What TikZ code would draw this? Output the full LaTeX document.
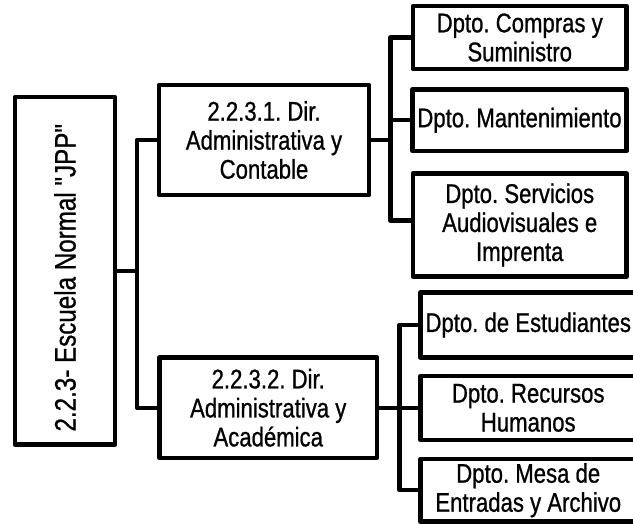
\documentclass[tikz,border=0pt]{standalone}
\usepackage{fontspec}
\setmainfont{Liberation Sans}[FakeStretch=0.82,FakeBold=0.8,Ligatures=TeXOff]
\frenchspacing
\begin{document}
\begin{tikzpicture}[x=1pt,y=-1pt,
  box/.style={draw=black, line width=4.4pt, line join=round, rectangle, inner sep=0pt,
    align=center, font=\fontsize{27}{29}\selectfont},
  conn/.style={draw=black, line width=4.4pt, line join=round}]
\useasboundingbox (0,0) rectangle (633,524);
\clip (0,0) rectangle (633,524);
\fill[white] (0,0) rectangle (633,524);
% root
\node[box, rotate=90, minimum width=347.5pt, minimum height=100pt,
  font=\fontsize{29.5}{31}\selectfont] (root) at (65,270.75) {2.2.3- Escuela Normal "JPP"\hspace*{14pt}};
% directions
\node[box, minimum width=210pt, minimum height=110pt] (d1) at (264,140)
  {2.2.3.1. Dir.\\Administrativa y\\Contable};
\node[box, minimum width=217.5pt, minimum height=100.5pt] (d2) at (268.25,407.75)
  {2.2.3.2. Dir.\\Administrativa y\\Académica};
% departments of d1
\node[box, minimum width=213.5pt, minimum height=63pt] (c1) at (519.75,37.5)
  {Dpto. Compras y\\Suministro};
\node[box, minimum width=214pt, minimum height=61.5pt] (c2) at (519.5,120.25)
  {Dpto. Mantenimiento};
\node[box, minimum width=213.5pt, minimum height=103pt] (c3) at (519.75,225)
  {Dpto. Servicios\\Audiovisuales e\\Imprenta};
% departments of d2
\node[box, minimum width=215.5pt, minimum height=65pt] (e1) at (528.25,325)
  {Dpto. de Estudiantes};
\node[box, minimum width=215.5pt, minimum height=64.2pt] (e2) at (528.25,407.9)
  {Dpto. Recursos\\Humanos};
\node[box, minimum width=215.5pt, minimum height=62.5pt] (e3) at (528.25,490.25)
  {Dpto. Mesa de\\Entradas y Archivo};
% junction columns
\coordinate (j1) at (137,0);
\coordinate (j2) at (390.5,0);
\coordinate (j3) at (399.5,0);
\coordinate (c3in) at ([yshift=4.5pt]c3.west);
% connectors
\draw[conn] (root.south) -- (root.south -| j1);
\draw[conn] (d1.west) -- (d1.west -| j1) -- (d2.west -| j1) -- (d2.west);
\draw[conn] (d1.east) -- (d1.east -| j2);
\draw[conn] (c1.west) -- (c1.west -| j2) -- (c3in -| j2) -- (c3in);
\draw[conn] (c2.west) -- (c2.west -| j2);
\draw[conn] (d2.east) -- (d2.east -| j3);
\draw[conn] (e1.west) -- (e1.west -| j3) -- (e3.west -| j3) -- (e3.west);
\draw[conn] (e2.west) -- (e2.west -| j3);
\end{tikzpicture}
\end{document}
